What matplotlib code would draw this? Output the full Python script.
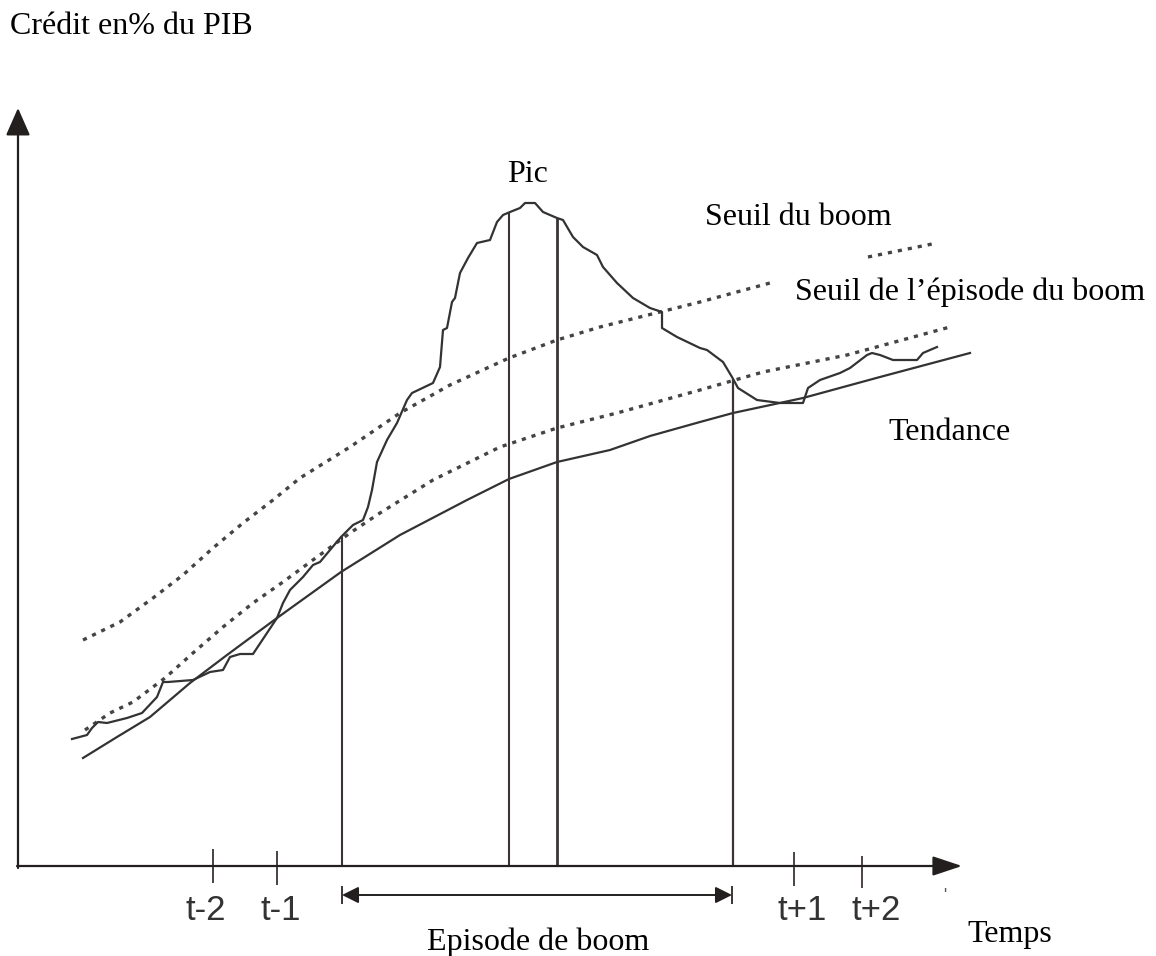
import numpy as np
import matplotlib
matplotlib.use("Agg")
import matplotlib.pyplot as plt

# schematic, in picture pixel units (y grows downward)
credit_x = [72, 87, 92, 98, 107, 127, 142, 157, 163, 168, 193, 210, 223, 230, 240, 253,
            267, 277, 283, 290, 303, 313, 320, 330, 341, 353, 363, 368, 372, 377, 387, 397,
            407, 412, 433, 440, 443, 447, 452, 455, 460, 468, 477, 490, 497, 503, 510, 520,
            525, 535, 543, 557, 563, 573, 583, 597, 603, 617, 633, 650, 662, 662, 677, 700,
            707, 723, 732, 738, 757, 780, 803, 808, 820, 840, 850, 867, 872, 880, 893, 917,
            923, 937]
credit_y = [739, 735, 728, 722, 723, 718, 713, 697, 682, 682, 680, 672, 670, 657, 654, 654,
            633, 618, 603, 590, 577, 565, 562, 550, 537, 525, 520, 507, 490, 462, 440, 423,
            400, 393, 383, 367, 330, 328, 302, 298, 273, 258, 243, 240, 222, 215, 212, 208,
            203, 203, 212, 218, 220, 237, 247, 255, 267, 283, 298, 308, 312, 328, 337, 348,
            350, 362, 377, 388, 400, 403, 403, 388, 380, 373, 368, 355, 353, 355, 360, 360,
            353, 347]

trend_x = [83, 117, 150, 190, 227, 277, 341, 400, 467, 509, 557, 610, 650, 700, 733, 803, 880, 970]
trend_y = [758, 737, 717, 683, 655, 618, 572, 535, 500, 479, 462, 450, 436, 422, 413, 398, 377, 353]

episode_x = [85, 110, 133, 165, 193, 223, 253, 283, 317, 350, 380, 433, 500, 557, 617, 700, 763, 847, 950]
episode_y = [730, 713, 702, 678, 653, 627, 603, 582, 557, 533, 513, 480, 447, 428, 413, 390, 372, 355, 327]

boom_x = [83, 120, 153, 183, 213, 243, 273, 300, 350, 400, 450, 509, 557, 600, 700, 770, np.nan, 868, 937]
boom_y = [640, 622, 598, 575, 548, 523, 500, 478, 447, 413, 385, 358, 340, 327, 302, 283, np.nan, 257, 243]

marker_x = [342, 509, 557, 733]          # debut, pic, pic, fin
tick_x = [213, 277, 794, 862]
tick_label_x = [206, 281, 802, 876]
tick_labels = ["t-2", "t-1", "t+1", "t+2"]

ink = "#3a3434"
plt.rcParams["lines.scale_dashes"] = False

fig = plt.figure(figsize=(11.56, 9.56), dpi=100)
ax = fig.add_axes([0, 0, 1, 1])
ax.set_xlim(0, 1156)
ax.set_ylim(956, 0)
ax.axis("off")

axis_y = 866
axis_x0 = 18

# axes with arrow heads
ax.annotate("", xy=(axis_x0, 108), xytext=(axis_x0, axis_y + 2),
            arrowprops=dict(arrowstyle="-|>,head_length=1.7,head_width=0.75",
                            color="#231f1f", lw=1.6, shrinkA=0, shrinkB=0))
ax.annotate("", xy=(962, axis_y), xytext=(axis_x0 - 1, axis_y),
            arrowprops=dict(arrowstyle="-|>,head_length=1.8,head_width=0.6",
                            color="#231f1f", lw=1.6, shrinkA=0, shrinkB=0))

# ticks on time axis
ax.vlines(tick_x, [849, 851, 852, 856], [883, 885, 886, 888], color=ink, lw=1.3)
for x, lab in zip(tick_label_x, tick_labels):
    ax.text(x, 920, lab, fontsize=25, family="Liberation Sans",
            color="#333333", ha="center", va="baseline")

# curves
ax.plot(boom_x, boom_y, color="#444444", lw=2.4, ls=(0, (3.0, 4.3)))
ax.plot(episode_x, episode_y, color="#444444", lw=2.4, ls=(0, (3.0, 4.3)))
ax.plot(trend_x, trend_y, color="#333333", lw=1.6)
ax.plot(credit_x, credit_y, color="#333333", lw=1.6)

# vertical markers from the curve down to the axis
tops = np.interp(marker_x, credit_x, credit_y)
ax.vlines(marker_x, tops, axis_y, color=ink, lw=[1.5, 1.5, 2.0, 1.6])

# episode double arrow
arr_y = 895
ax.annotate("", xy=(marker_x[0], arr_y), xytext=(marker_x[3] - 1, arr_y),
            arrowprops=dict(arrowstyle="<|-|>,head_length=1.0,head_width=0.5",
                            color="#231f1f", lw=1.4, shrinkA=0, shrinkB=0))
ax.vlines([marker_x[0], marker_x[3] - 1], arr_y - 9, arr_y + 9, color=ink, lw=1.4)

# labels
serif = dict(family="Liberation Serif", fontsize=23, color="black", va="baseline")
ax.text(10, 34, "Crédit en% du PIB", ha="left", **serif)
ax.text(528, 182, "Pic", ha="center", **serif)
ax.text(705, 225, "Seuil du boom", ha="left", **serif)
ax.text(795, 300, "Seuil de l\u2019épisode du boom", ha="left", **serif)
ax.text(888, 440, "Tendance", ha="left", **serif)
ax.text(427, 950, "Episode de boom", ha="left", **serif)
ax.text(967, 942, "Temps", ha="left", **serif)
ax.text(945, 900, "'", ha="center", family="Liberation Sans", fontsize=12, color="#555555")

fig.savefig("out.png", dpi=100)
